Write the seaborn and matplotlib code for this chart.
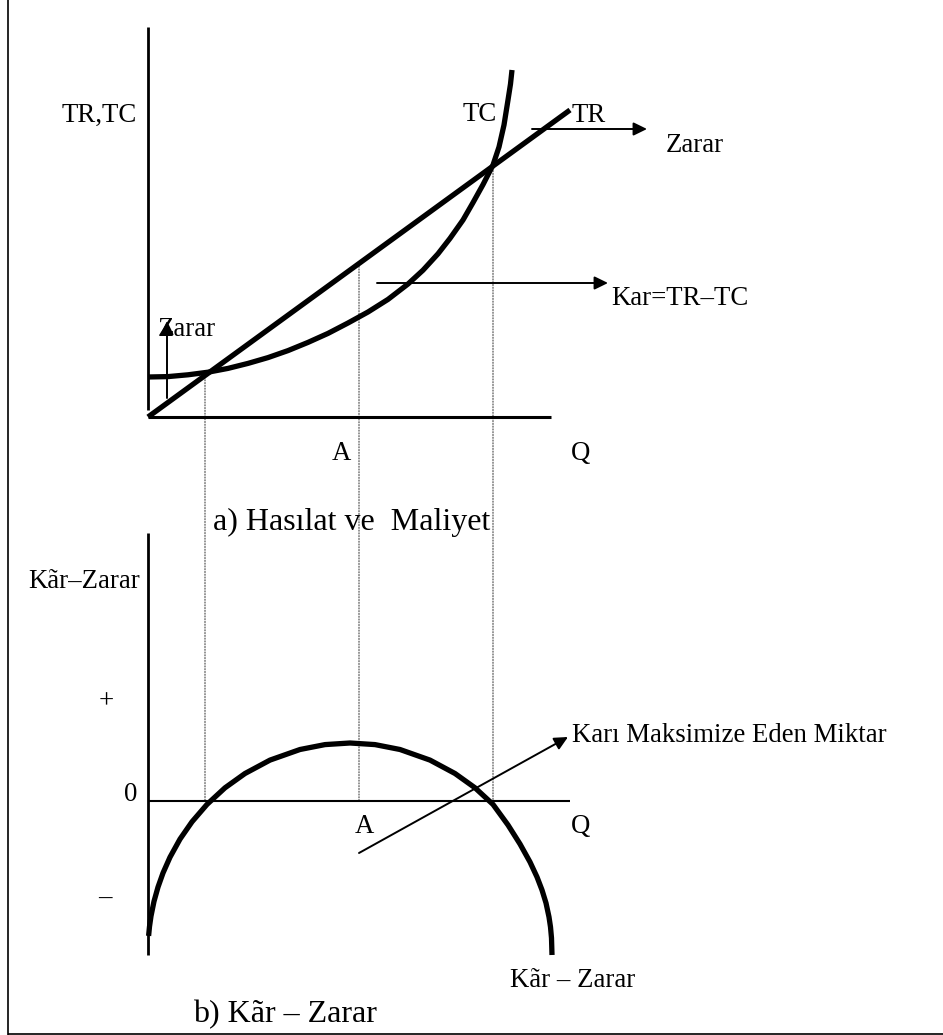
import matplotlib
matplotlib.use("Agg")
import matplotlib.pyplot as plt
import seaborn as sns
from matplotlib.patches import ConnectionPatch
from matplotlib.lines import Line2D

# ---- data -------------------------------------------------------------
# total revenue (straight line through the origin)
tr_q = [0.0, 10.55]
tr_v = [0.0, 7.675]

# total cost
tc_q = [0.0, 0.5, 1.0, 1.5, 2.0, 2.5, 3.0, 3.5, 4.0, 4.5, 5.0, 5.5, 6.0,
        6.5, 6.875, 7.25, 7.55, 7.875, 8.125, 8.375, 8.625, 8.775, 8.9,
        9.0, 9.0625, 9.1]
tc_v = [1.0, 1.01, 1.055, 1.12, 1.215, 1.34, 1.485, 1.66, 1.865, 2.09,
        2.35, 2.625, 2.94, 3.325, 3.67, 4.08, 4.465, 4.925, 5.36, 5.81,
        6.3, 6.75, 7.3, 7.925, 8.325, 8.675]

# profit / loss curve
pl_q = [0.015, 0.0375, 0.075, 0.15, 0.25, 0.375, 0.55, 0.80, 1.10, 1.475,
        1.925, 2.425, 3.05, 3.80, 4.425, 5.05, 5.675, 6.30, 7.05, 7.675,
        8.175, 8.625, 9.00, 9.30, 9.55, 9.725, 9.85, 9.95, 10.025, 10.0625,
        10.0875, 10.10]
pl_v = [-3.3725, -3.14, -2.8775, -2.51, -2.1525, -1.80, -1.405, -0.9525,
        -0.52, -0.085, 0.33, 0.6875, 1.0225, 1.2875, 1.41, 1.45, 1.41,
        1.2875, 1.0225, 0.6875, 0.33, -0.085, -0.60, -1.075, -1.525, -1.90,
        -2.225, -2.55, -2.90, -3.15, -3.425, -3.85]

# break-even quantities, profit-maximising quantity A, and where each
# guide meets the upper chart
guide_q = [1.425, 5.275, 8.625]
guide_top = [1.07, 3.84, 6.30]

# ---- style ------------------------------------------------------------
sns.set_style("white")
plt.rcParams["font.family"] = ["Liberation Serif", "DejaVu Serif"]
plt.rcParams["text.color"] = "black"
plt.rcParams["lines.solid_capstyle"] = "butt"
plt.rcParams["lines.solid_joinstyle"] = "round"
FS = 19.3
FS_TITLE = 23
BLACK = "black"

fig = plt.figure(figsize=(9.43, 10.35), dpi=100)
fig.patch.set_facecolor("white")

# both panels span the figure; limits place them on the page
ax_top = fig.add_axes([0, 0, 1, 1])
ax_bot = fig.add_axes([0, 0, 1, 1])
for ax in (ax_top, ax_bot):
    ax.set_axis_off()
    ax.patch.set_alpha(0)
    ax.set_xlim(-3.7, 19.875)
ax_top.set_ylim(-15.45, 10.425)
ax_bot.set_ylim(-5.85, 20.025)

# ---- a) revenue and cost ---------------------------------------------
ax_top.plot([0, 0], [0.175, 9.75], color=BLACK, lw=2.0)
ax_top.plot([0, 10.075], [0, 0], color=BLACK, lw=2.2)
sns.lineplot(x=tr_q, y=tr_v, ax=ax_top, color=BLACK, lw=3.8,
             sort=False, estimator=None)
sns.lineplot(x=tc_q, y=tc_v, ax=ax_top, color=BLACK, lw=3.8,
             sort=False, estimator=None)

arrow_kw = dict(arrowstyle="-|>,head_length=0.45,head_width=0.22",
                color=BLACK, lw=1.4, shrinkA=0, shrinkB=0, mutation_scale=18)
ax_top.annotate("", xy=(12.475, 7.2), xytext=(9.6, 7.2), arrowprops=arrow_kw)
ax_top.annotate("", xy=(11.5, 3.35), xytext=(5.725, 3.35), arrowprops=arrow_kw)
ax_top.annotate("", xy=(0.475, 2.4), xytext=(0.475, 0.475), arrowprops=arrow_kw)

ax_top.text(-0.275, 7.375, "TR,TC", ha="right", va="baseline", fontsize=FS)
ax_top.text(7.875, 7.40, "TC", ha="left", va="baseline", fontsize=FS)
ax_top.text(10.6, 7.375, "TR", ha="left", va="baseline", fontsize=FS)
ax_top.text(12.95, 6.625, "Zarar", ha="left", va="baseline", fontsize=FS)
ax_top.text(11.575, 2.8, "Kar=TR–TC", ha="left", va="baseline", fontsize=FS)
ax_top.text(0.25, 2.025, "Zarar", ha="left", va="baseline", fontsize=FS)
ax_top.text(4.6, -1.075, "A", ha="left", va="baseline", fontsize=FS)
ax_top.text(10.575, -1.075, "Q", ha="left", va="baseline", fontsize=FS)
ax_top.text(1.625, -2.825, "a) Hasılat ve  Maliyet", ha="left",
            va="baseline", fontsize=FS_TITLE)

# ---- b) profit / loss ---------------------------------------------------
ax_bot.plot([0, 0], [-3.85, 6.7], color=BLACK, lw=2.0)
ax_bot.plot([0, 10.55], [0, 0], color=BLACK, lw=1.5)
sns.lineplot(x=pl_q, y=pl_v, ax=ax_bot, color=BLACK, lw=3.8,
             sort=False, estimator=None)
ax_bot.annotate("", xy=(10.5, 1.6), xytext=(5.275, -1.3), arrowprops=arrow_kw)

ax_bot.text(10.6, 1.475, "Karı Maksimize Eden Miktar", ha="left",
            va="baseline", fontsize=FS)
ax_bot.text(-0.275, 0.0, "0", ha="right", va="baseline", fontsize=FS)
ax_bot.text(5.175, -0.8, "A", ha="left", va="baseline", fontsize=FS)
ax_bot.text(10.575, -0.8, "Q", ha="left", va="baseline", fontsize=FS)
ax_bot.text(-1.05, 2.475, "+", ha="center", va="center", fontsize=FS)
ax_bot.text(-1.075, -2.425, "–", ha="center", va="center", fontsize=FS)
ax_bot.text(-0.2, 5.325, "Kãr–Zarar", ha="right", va="baseline", fontsize=FS)
ax_bot.text(9.05, -4.65, "Kãr – Zarar", ha="left", va="baseline", fontsize=FS)
ax_bot.text(1.125, -5.525, "b) Kãr – Zarar", ha="left", va="baseline",
            fontsize=FS_TITLE)

# ---- dotted guides linking the two panels -------------------------------
for q, top in zip(guide_q, guide_top):
    con = ConnectionPatch(xyA=(q, top), coordsA=ax_top.transData,
                          xyB=(q, 0), coordsB=ax_bot.transData,
                          color="#444444", lw=0.8, linestyle=(0, (1, 1.5)),
                          zorder=-1)
    fig.add_artist(con)

# ---- page frame ---------------------------------------------------------
fig.add_artist(Line2D([8 / 943, 8 / 943], [0, 1], transform=fig.transFigure,
                      color=BLACK, lw=1.2))
fig.add_artist(Line2D([8 / 943, 1], [1.5 / 1035, 1.5 / 1035],
                      transform=fig.transFigure, color=BLACK, lw=1.2))

fig.savefig("out.png", dpi=100, facecolor="white")
